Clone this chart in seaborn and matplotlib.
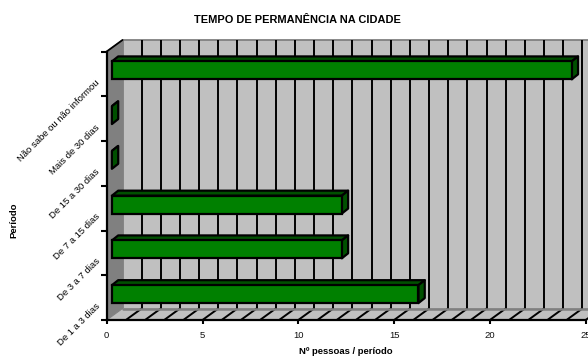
import matplotlib
matplotlib.use("Agg")
import matplotlib.pyplot as plt
from matplotlib.patches import Polygon, Rectangle
from matplotlib.transforms import Affine2D
import seaborn as sns
import pandas as pd

categories = ["Não sabe ou não informou", "Mais de 30 dias", "De 15 a 30 dias",
              "De 7 a 15 dias", "De 3 a 7 dias", "De 1 a 3 dias"]
values = [24, 0, 0, 12, 12, 16]
x_ticks = [0, 5, 10, 15, 20, 25]
title = "TEMPO DE PERMANÊNCIA NA CIDADE"
xlabel = "Nº pessoas / período"
ylabel = "Período"

W, H = 588, 356
L, R, T, B = 106.7, 585.7, 51.5, 320
sns.set_style("white")
plt.rcParams["font.family"] = ["Liberation Sans"]
fig = plt.figure(figsize=(W / 100, H / 100), dpi=100, facecolor="white")
ax = fig.add_axes([L / W, 1 - B / H, (R - L) / W, (B - T) / H])
df = pd.DataFrame({"cat": categories, "val": values})
sns.barplot(data=df, y="cat", x="val", order=categories, orient="h", width=0.4,
            color="#008000", saturation=1, edgecolor="black", linewidth=1.6, ax=ax, zorder=5)
ax.set_xlim(0, 25)
ax.set_ylim(5.5, -0.5)

px = (R - L) / 25
py = (B - T) / len(categories)
wx, wy = 15.8 / px, 11.5 / py      # wall depth
fx, fy = 5.2 / px, 3.5 / py        # bar front plane
dx, dy = 6.3 / px, 5.0 / py        # bar depth
y0, y1 = -0.5, 5.5

# walls and floor
ax.add_patch(Rectangle((wx, y0 - wy), 25, 6, fc="#c0c0c0", ec="#808080", lw=1.3, zorder=1, clip_on=False))
ax.add_patch(Polygon([(0, y1), (wx, y1 - wy), (wx, y0 - wy), (0, y0)], fc="#808080", ec="#808080", lw=0.8, zorder=1.5, clip_on=False))
ax.add_patch(Polygon([(0, y1), (wx, y1 - wy), (25 + wx, y1 - wy), (25, y1)], fc="#c0c0c0", ec="none", zorder=1.2, clip_on=False))
ax.plot([wx, 25 + wx], [y1 - wy, y1 - wy], color="#808080", lw=1.8, zorder=2.5, clip_on=False)
ax.plot([0, wx], [y0, y0 - wy], color="black", lw=1.3, zorder=2.5, clip_on=False)
for g in range(1, 26):
    ax.plot([g + wx, g + wx], [y0 - wy, y1 - wy], color="black", lw=1.4, zorder=2, clip_on=False, solid_capstyle="butt")
    ax.plot([g, g + wx], [y1, y1 - wy], color="black", lw=1.4, zorder=2, clip_on=False, solid_capstyle="butt")

# 3D bars
for p, v in zip(ax.patches[:len(values)], values):
    p.set_x(fx)
    p.set_y(p.get_y() - fy)
    top, bot = p.get_y(), p.get_y() + p.get_height()
    x2 = fx + v
    ax.add_patch(Polygon([(fx, top), (fx + dx, top - dy), (x2 + dx, top - dy), (x2, top)],
                         fc="#005000", ec="black", lw=1.6, zorder=4, joinstyle="round"))
    ax.add_patch(Polygon([(x2, top), (x2 + dx, top - dy), (x2 + dx, bot - dy), (x2, bot)],
                         fc="#005000", ec="black", lw=1.6, zorder=4, joinstyle="round"))
    if v == 0:
        p.set_visible(False)

for s in ("top", "right"):
    ax.spines[s].set_visible(False)
for s in ("left", "bottom"):
    ax.spines[s].set_color("black")
    ax.spines[s].set_linewidth(1.6)
    ax.spines[s].set_zorder(6)

ax.set_xticks(x_ticks)
ax.set_xticklabels([str(t) for t in x_ticks], fontsize=6.8, color="#111111")
ax.tick_params(axis="x", length=3, width=1.5, color="black", pad=5, bottom=True)
ax.set_yticks([i - 0.5 for i in range(len(categories) + 1)])
ax.set_yticklabels([])
ax.tick_params(axis="y", which="major", length=4, width=1.5, color="black", left=True)
ax.set_yticks(range(len(categories)), minor=True)
ax.set_yticklabels(categories, minor=True, rotation=45, ha="right", va="top",
                   rotation_mode="anchor", fontsize=6.8, color="#000000")
ax.tick_params(axis="y", which="minor", length=0, pad=6)
for lab in ax.get_yticklabels(minor=True):
    lab.set_transform(lab.get_transform() + Affine2D().translate(-3, -4))
ax.set_xlabel("")
ax.set_ylabel("")
ax.set_zorder(3)

fig.text(297 / W, 1 - 20 / H, title, ha="center", va="center", fontsize=7.9, fontweight="bold", color="#000000")
fig.text(346 / W, 1 - 352 / H, xlabel, ha="center", va="center", fontsize=6.8, fontweight="bold", color="#000000")
fig.text(14 / W, 1 - 220 / H, ylabel, ha="center", va="center", rotation=90, fontsize=6.8, fontweight="bold", color="#000000")
fig.savefig("out.png", dpi=100)
